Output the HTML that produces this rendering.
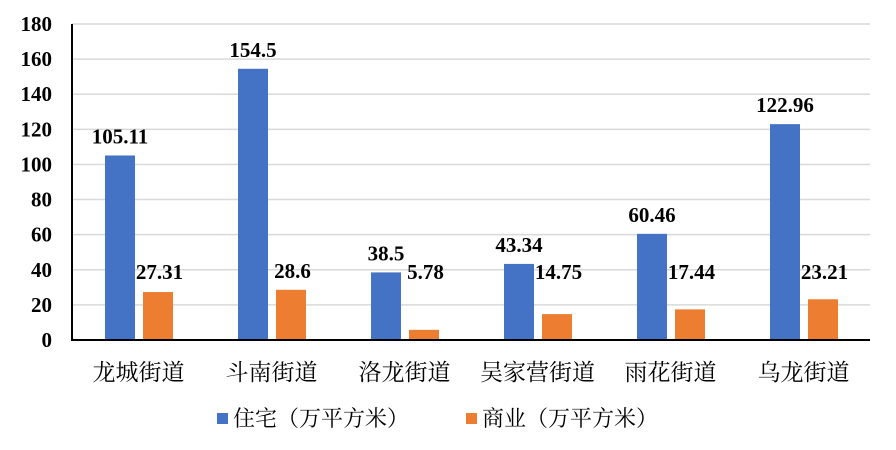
<!DOCTYPE html>
<html><head><meta charset="utf-8"><style>
body{margin:0;background:#fff;}
svg{display:block;}
text{font-family:"Liberation Serif","Noto Serif CJK SC",serif;}
</style></head><body>
<svg width="896" height="450">
<g id="grid"></g><g id="bars"></g><g id="labels"></g>
<line x1="72" y1="24" x2="72" y2="340" stroke="#000" stroke-width="2"/>
<line x1="71" y1="340" x2="870" y2="340" stroke="#000" stroke-width="2"/>
<g>
<rect x="217" y="413" width="11" height="11" fill="#4472C4"/>
<text x="233" y="426" font-size="22">住宅（万平方米）</text>
<rect x="466" y="413" width="11" height="11" fill="#ED7D31"/>
<text x="482" y="426" font-size="22">商业（万平方米）</text>
</g>
</svg>
<script>
const categories=["龙城街道","斗南街道","洛龙街道","吴家营街道","雨花街道","乌龙街道"];
const residential=[105.11,154.5,38.5,43.34,60.46,122.96];
const commercial=[27.31,28.6,5.78,14.75,17.44,23.21];
const ticks=[0,20,40,60,80,100,120,140,160,180];
const NS="http://www.w3.org/2000/svg";
const x0=72,x1=870,y0=340,yTop=24,yMax=180;
const y=v=>y0-(y0-yTop)*v/yMax;
const band=(x1-x0)/categories.length;
const cx=i=>x0+band*(i+0.5);
function mk(t,a,p){const e=document.createElementNS(NS,t);for(const k in a)e.setAttribute(k,a[k]);p.appendChild(e);return e;}
const grid=document.getElementById('grid'),bars=document.getElementById('bars'),labels=document.getElementById('labels');
ticks.forEach(t=>{
 if(t>0){const l=mk('line',{x1:x0,x2:x1,y1:y(t),y2:y(t),stroke:'#d9d9d9','stroke-width':1.5},grid);
 
 }
 const tx=mk('text',{x:52,y:y(t)+7,'text-anchor':'end','font-size':21,'font-weight':'bold'},grid);
 tx.textContent=t;
 
 
});
categories.forEach((c,i)=>{
 const c0=cx(i);
 const b1=mk('rect',{x:c0-33.5,y:y(residential[i]),width:30,height:y0-y(residential[i]),fill:'#4472C4'},bars);
 
 
 const b2=mk('rect',{x:c0+4.5,y:y(commercial[i]),width:30,height:y0-y(commercial[i]),fill:'#ED7D31'},bars);
 
 
 const l1=mk('text',{x:c0-18.5,y:y(residential[i])-12,'text-anchor':'middle','font-size':21,'font-weight':'bold'},labels);
 l1.textContent=residential[i];
 
 
 const l2=mk('text',{x:c0+21,y:Math.min(y(commercial[i])-12,y(28)-12),'text-anchor':'middle','font-size':21,'font-weight':'bold'},labels);
 l2.textContent=commercial[i];
 
 
 const cl=mk('text',{x:c0,y:380,'text-anchor':'middle','font-size':23},labels);
 cl.textContent=c;
 
 
});
</script>
</body></html>
